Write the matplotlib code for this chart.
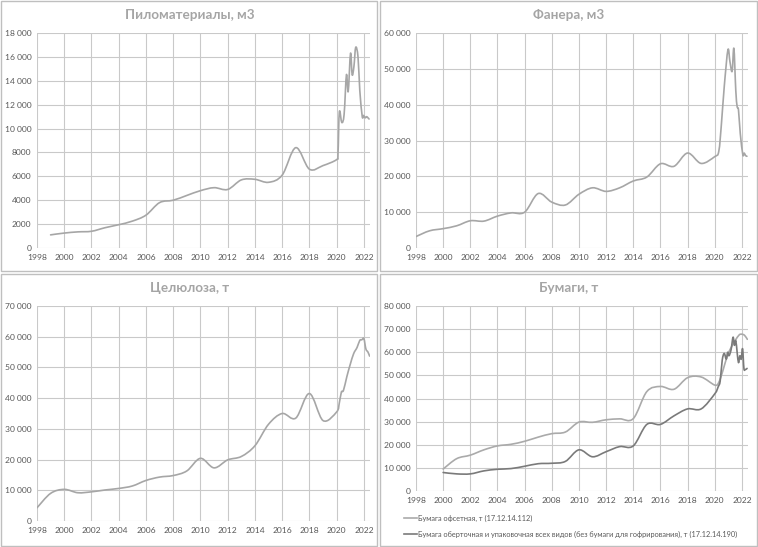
import matplotlib
matplotlib.use("Agg")
import matplotlib.pyplot as plt
from matplotlib.patches import Rectangle, PathPatch
from matplotlib.path import Path
from matplotlib.lines import Line2D
from matplotlib.ticker import FuncFormatter, MultipleLocator

plt.rcParams['font.family'] = ['Lato', 'DejaVu Sans']

# ---------------- data ----------------
lumber_x = [1999, 2000, 2001, 2002, 2003, 2004, 2005, 2006, 2007, 2008, 2009, 2010, 2011, 2012,
            2013, 2014, 2015, 2016, 2017, 2018, 2019, 2020, 2020.1, 2020.2, 2020.38, 2020.55,
            2020.72, 2020.85, 2021.02, 2021.14, 2021.27, 2021.4, 2021.57, 2021.7, 2021.88,
            2021.97, 2022.1, 2022.2, 2022.3, 2022.38]
lumber_y = [1100, 1250, 1350, 1400, 1700, 1950, 2250, 2750, 3800, 4000, 4400, 4800, 5050, 4900,
            5700, 5750, 5500, 6100, 8400, 6600, 6900, 7400, 7900, 11400, 10500, 11200,
            14500, 13100, 16300, 14500, 15200, 16800, 16000, 13200, 11000,
            11100, 10900, 11000, 10900, 10800]

plywood_x = [1998, 1999, 2000, 2001, 2002, 2003, 2004, 2005, 2006, 2007, 2008, 2009, 2010, 2011,
             2012, 2013, 2014, 2015, 2016, 2017, 2018, 2019, 2020, 2020.3, 2020.5, 2020.7,
             2020.97, 2021.12, 2021.28, 2021.41, 2021.55, 2021.65, 2021.75, 2021.88, 2022.07,
             2022.17, 2022.27, 2022.37]
plywood_y = [3200, 4800, 5400, 6200, 7600, 7500, 8900, 9800, 10000, 15200, 12800, 12000, 15000,
             16800, 15800, 16800, 18700, 19800, 23500, 22800, 26500, 23600, 25500, 27000, 35000,
             45000, 55300, 52000, 49300, 55700, 44000, 39500, 38500, 32000, 26000,
             26500, 25800, 25600]

cellulose_x = [1998, 1999, 2000, 2001, 2002, 2003, 2004, 2005, 2006, 2007, 2008, 2009, 2010, 2011,
               2012, 2013, 2014, 2015, 2016, 2017, 2018, 2019, 2020, 2020.2, 2020.35, 2020.5,
               2020.75, 2021.0, 2021.25, 2021.5, 2021.7, 2021.85, 2022.0, 2022.15, 2022.3, 2022.42]
cellulose_y = [4300, 9000, 10300, 9200, 9500, 10100, 10600, 11400, 13200, 14300, 14800, 16300,
               20400, 17300, 19900, 21000, 24500, 31500, 35000, 33500, 41500, 32700, 35500,
               38500, 42000, 42500, 47000, 51000, 54500, 56500, 58800, 59000, 59400, 56000,
               55000, 53700]

offset_x = [2000, 2001, 2002, 2003, 2004, 2005, 2006, 2007, 2008, 2009, 2010, 2011, 2012, 2013,
            2014, 2015, 2016, 2017, 2018, 2019, 2020, 2020.3, 2020.6, 2020.9, 2021.2, 2021.5,
            2021.8, 2022.0, 2022.2, 2022.4]
offset_y = [9500, 14000, 15500, 17800, 19500, 20200, 21500, 23300, 24800, 25500, 29800, 29700,
            30800, 31200, 31300, 43000, 45200, 44000, 49000, 49300, 45800, 47000, 52000, 58000,
            62000, 65000, 67500, 67800, 67300, 65600]

wrap_x = [2000, 2001, 2002, 2003, 2004, 2005, 2006, 2007, 2008, 2009, 2010, 2011, 2012, 2013,
          2014, 2015, 2016, 2017, 2018, 2019, 2020, 2020.25, 2020.4, 2020.55, 2020.7, 2020.85,
          2020.95, 2021.05, 2021.2, 2021.35, 2021.45, 2021.55, 2021.65, 2021.75, 2021.85,
          2021.95, 2022.05, 2022.15, 2022.25, 2022.38]
wrap_y = [8000, 7400, 7400, 8700, 9400, 9700, 10700, 11800, 12000, 12800, 17800, 14800, 17000,
          19200, 19500, 28800, 28800, 32500, 35500, 35500, 42000, 45000, 47500, 56500, 59500,
          57000, 60000, 58500, 61000, 66500, 63000, 65000, 60000, 55500, 58500,
          57000, 61500, 53000, 52500, 53000]

titles = ["Пиломатериалы, м3", "Фанера, м3", "Целюлоза, т", "Бумаги, т"]
legend_labels = ["Бумага офсетная, т (17.12.14.112)",
                 "Бумага оберточная и упаковочная всех видов (без бумаги для гофрирования), т (17.12.14.190)"]

# ---------------- layout ----------------
W, H = 758, 547
fig = plt.figure(figsize=(W / 100, H / 100), dpi=100)


def fx(px):
    return px / W


def fy(py):
    return 1 - py / H


for (x0, y0, x1, y1) in [(1, 1, 377, 271), (380, 1, 757, 271), (1, 274, 377, 546), (380, 274, 757, 546)]:
    fig.patches.append(Rectangle((fx(x0), fy(y1)), fx(x1 - x0), (y1 - y0) / H,
                                 transform=fig.transFigure, fill=False, edgecolor='#bfbfbf',
                                 linewidth=1.0))


def fmt(v, pos):
    v = int(round(v))
    if v >= 10000:
        return f"{v:,}".replace(",", " ")
    return str(v)


grid_c = '#c9c9c9'
tick_c = '#595959'
title_c = '#a5a5a5'


def smooth_line(ax, xs, ys, color, lw=1.2):
    """Excel-style smoothed line: Catmull-Rom segments drawn as cubic Bezier curves."""
    n = len(xs)
    verts = [(xs[0], ys[0])]
    codes = [Path.MOVETO]
    for i in range(n - 1):
        x0, y0 = (xs[i - 1], ys[i - 1]) if i > 0 else (xs[i], ys[i])
        x1, y1 = xs[i], ys[i]
        x2, y2 = xs[i + 1], ys[i + 1]
        x3, y3 = (xs[i + 2], ys[i + 2]) if i + 2 < n else (xs[i + 1], ys[i + 1])
        c1 = (x1 + (x2 - x0) / 6, y1 + (y2 - y0) / 6)
        c2 = (x2 - (x3 - x1) / 6, y2 - (y3 - y1) / 6)
        verts += [c1, c2, (x2, y2)]
        codes += [Path.CURVE4] * 3
    ax.add_patch(PathPatch(Path(verts, codes), facecolor='none', edgecolor=color,
                           linewidth=lw, capstyle='round', joinstyle='round'))
    return Line2D([], [], color=color, linewidth=lw)


def make_ax(left, right, top, bottom, ymax, ystep, title, title_x, title_y):
    ax = fig.add_axes([fx(left), fy(bottom), fx(right - left), (bottom - top) / H])
    ax.set_xlim(1998, 2022.45)
    ax.set_ylim(0, ymax)
    ax.xaxis.set_major_locator(MultipleLocator(2))
    ax.yaxis.set_major_locator(MultipleLocator(ystep))
    ax.yaxis.set_major_formatter(FuncFormatter(fmt))
    ax.xaxis.set_major_formatter(FuncFormatter(lambda v, p: str(int(round(v)))))
    ax.grid(True, color=grid_c, linewidth=0.8)
    ax.set_axisbelow(True)
    for s in ax.spines.values():
        s.set_visible(False)
    ax.tick_params(length=0, labelsize=6.1, colors=tick_c, pad=4)
    fig.text(fx(title_x), fy(title_y), title, ha='center', va='center', fontsize=9.7,
             fontweight='bold', color=title_c)
    return ax


ax1 = make_ax(37, 370, 33, 248, 18000, 2000, titles[0], 190, 15)
smooth_line(ax1, lumber_x, lumber_y, '#a6a6a6')

ax2 = make_ax(416, 748, 33, 248, 60000, 10000, titles[1], 569, 15)
smooth_line(ax2, plywood_x, plywood_y, '#a6a6a6')

ax3 = make_ax(37, 370, 306, 521, 70000, 10000, titles[2], 190, 288)
smooth_line(ax3, cellulose_x, cellulose_y, '#a6a6a6')

ax4 = make_ax(416, 748, 306, 491, 80000, 10000, titles[3], 569, 288)
l1 = smooth_line(ax4, offset_x, offset_y, '#aaaaaa')
l2 = smooth_line(ax4, wrap_x, wrap_y, '#7a7a7a')

fig.legend([l1, l2], legend_labels, loc='upper left',
           bbox_to_anchor=(fx(404), fy(515)), frameon=False, fontsize=5.3,
           handlelength=1.7, handletextpad=0.2, labelspacing=1.2, labelcolor=tick_c,
           borderaxespad=0, borderpad=0)

fig.savefig("out.png", dpi=100)
